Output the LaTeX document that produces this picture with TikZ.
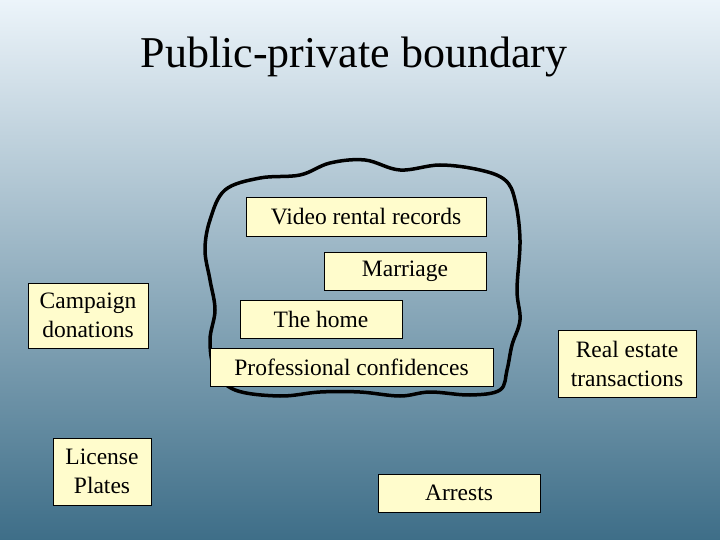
\documentclass[tikz,border=0pt]{standalone}
\usepackage{fontspec}
\setmainfont{Liberation Serif}
\begin{document}
\begin{tikzpicture}[x=1pt,y=-1pt,
  box/.style={draw=black,line width=1pt,fill=yellow!20,font=\fontsize{23.5}{29}\selectfont,align=center,inner sep=0pt}]
\useasboundingbox (0,0) rectangle (720,540);
\shade[top color={rgb,255:red,236;green,244;blue,250},bottom color={rgb,255:red,62;green,110;blue,136}] (0,0) rectangle (720,540);
\node (title) at (354,57) {\fontsize{44}{50}\selectfont Public-private boundary};
\draw[line width=3.5pt] plot[smooth cycle,tension=0.6] coordinates {
(225,190)(260,178)(300,175)(330,163)(365,160)(400,170)(440,165)(480,170)(505,180)(515,200)(520,240)(517,290)(520,320)(512,345)(507,370)(500,390)(470,395)(430,392)(400,396)(360,392)(320,392)(280,396)(235,390)(215,370)(210,340)(215,310)(210,280)(205,250)(210,220)};
\node[box,minimum width=240pt,minimum height=38pt] (video) at (366,217) {Video rental records};
\node[box,minimum width=162pt,minimum height=38pt] (marriage) at (405,271) {Marriage};
\node[box,minimum width=162pt,minimum height=38pt] (home) at (321,319) {The home};
\node[box,minimum width=283pt,minimum height=38pt] (prof) at (351.5,367) {Professional confidences};
\node[box,minimum width=120pt,minimum height=65pt] (camp) at (88,315.5) {Campaign\\donations};
\node[box,minimum width=98pt,minimum height=67pt] (lic) at (102,471.5) {License\\Plates};
\node[box,minimum width=138pt,minimum height=67pt] (real) at (627,363.5) {Real estate\\transactions};
\node[box,minimum width=162pt,minimum height=38pt] (arr) at (459,493) {Arrests};
\end{tikzpicture}
\end{document}
